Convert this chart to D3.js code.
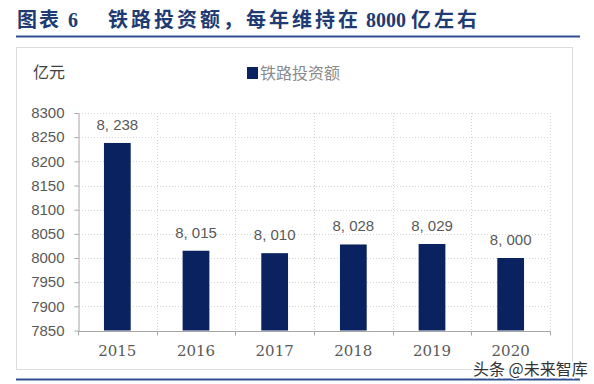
<!DOCTYPE html>
<html>
<head>
<meta charset="utf-8">
<script src="https://cdn.jsdelivr.net/npm/d3@7"></script>
<style>
  body { margin: 0; background: #fff; }
  svg { display: block; }
</style>
</head>
<body>
<div id="chart"></div>
<script>
// data
const years = ["2015", "2016", "2017", "2018", "2019", "2020"];
const invest = [8238, 8015, 8010, 8028, 8029, 8000];
const yTicks = [7850, 7900, 7950, 8000, 8050, 8100, 8150, 8200, 8250, 8300];

const W = 594, H = 384;
const svg = d3.select("#chart").append("svg")
    .attr("width", W)
    .attr("height", H);

const cjk = "'Liberation Serif', 'Noto Sans CJK SC', sans-serif";
const navy = "#0a2260";

// title + rules
const title = svg.append("text")
    .attr("y", 27)
    .attr("font-family", cjk)
    .attr("font-weight", "bold")
    .attr("font-size", 20)
    .attr("fill", "#1f3b73")
    .attr("xml:space", "preserve");
title.append("tspan").attr("x", 17).style("letter-spacing", "2px").text("图表 6");
title.append("tspan").attr("x", 108).style("letter-spacing", "3px").text("铁路投资额，每年维持在");
title.append("tspan").style("letter-spacing", "0px").text(" 8000 ");
title.append("tspan").style("letter-spacing", "3px").text("亿左右");

svg.append("line")
    .attr("x1", 16).attr("x2", 580).attr("y1", 36.5).attr("y2", 36.5)
    .attr("stroke", "#2f4f8f").attr("stroke-width", 2);

svg.append("rect")
    .attr("x", 16.5).attr("y", 47.5).attr("width", 556).attr("height", 322)
    .attr("fill", "none").attr("stroke", "#dcdcdc");

svg.append("line")
    .attr("x1", 16).attr("x2", 580).attr("y1", 379.5).attr("y2", 379.5)
    .attr("stroke", "#2f4f8f").attr("stroke-width", 2);

// unit
svg.append("text")
    .attr("x", 33).attr("y", 78)
    .attr("font-family", "'Noto Sans CJK SC', sans-serif")
    .attr("font-size", 16)
    .attr("fill", "#404040")
    .text("亿元");

// legend
svg.append("rect")
    .attr("x", 247).attr("y", 67).attr("width", 11).attr("height", 12)
    .attr("fill", navy);
svg.append("text")
    .attr("x", 260).attr("y", 79)
    .attr("font-family", "'Noto Sans CJK SC', sans-serif")
    .attr("font-size", 16)
    .attr("fill", "#8a8a8a")
    .text("铁路投资额");

// scales
const x = d3.scaleBand()
    .domain(years)
    .range([78, 550]);

const y = d3.scaleLinear()
    .domain([7850, 8300])
    .range([330.5, 113]);

// gridlines, dotted
const grid = svg.append("g")
    .attr("stroke", "#d4d4d4")
    .attr("stroke-dasharray", "1,2");

grid.selectAll(".hg")
    .data(yTicks.slice(1))
    .enter().append("line")
    .attr("x1", 79).attr("x2", 550)
    .attr("y1", d => Math.round(y(d)) + 0.5)
    .attr("y2", d => Math.round(y(d)) + 0.5);

grid.selectAll(".vg")
    .data(years)
    .enter().append("line")
    .attr("x1", d => Math.round(x(d) + x.bandwidth()) + 0.5)
    .attr("x2", d => Math.round(x(d) + x.bandwidth()) + 0.5)
    .attr("y1", y(8300))
    .attr("y2", y(7850));

// bars
const barW = x.bandwidth() * 0.34;
svg.append("g")
    .selectAll("rect")
    .data(invest)
    .enter().append("rect")
    .attr("x", (d, i) => x(years[i]) + (x.bandwidth() - barW) / 2)
    .attr("y", d => y(d))
    .attr("width", barW)
    .attr("height", d => y(7850) - y(d))
    .attr("fill", navy);

// value labels
svg.append("g")
    .selectAll("text")
    .data(invest)
    .enter().append("text")
    .attr("x", (d, i) => x(years[i]) + x.bandwidth() / 2)
    .attr("y", d => y(d) - 13)
    .attr("text-anchor", "middle")
    .attr("font-family", "'Liberation Sans', Arial, sans-serif")
    .attr("font-size", 15)
    .attr("fill", "#595959")
    .attr("xml:space", "preserve")
    .text(d => d3.format(",")(d).replace(",", ", "));

// y axis
const yAxis = svg.append("g")
    .attr("transform", "translate(78.5,0)")
    .call(d3.axisLeft(y).tickValues(yTicks).tickSize(4).tickPadding(10).tickSizeOuter(0).tickFormat(d3.format("d")));

yAxis.select(".domain").attr("stroke", "#a6a6a6");
yAxis.selectAll(".tick line").attr("stroke", "#a6a6a6");
yAxis.selectAll(".tick text")
    .attr("font-family", "'Liberation Sans', Arial, sans-serif")
    .attr("font-size", 15)
    .attr("fill", "#595959");

// x axis, ticks between categories
const xAxis = svg.append("g")
    .attr("transform", "translate(0," + (Math.round(y(7850)) + 0.5) + ")");

xAxis.append("line")
    .attr("x1", 78).attr("x2", 551)
    .attr("stroke", "#a6a6a6");

xAxis.selectAll(".xt")
    .data([years[0]].concat(years))
    .enter().append("line")
    .attr("x1", (d, i) => Math.round(i === 0 ? x(d) : x(d) + x.bandwidth()) + 0.5)
    .attr("x2", (d, i) => Math.round(i === 0 ? x(d) : x(d) + x.bandwidth()) + 0.5)
    .attr("y1", 0).attr("y2", 4)
    .attr("stroke", "#a6a6a6");

xAxis.selectAll(".xl")
    .data(years)
    .enter().append("text")
    .attr("x", d => x(d) + x.bandwidth() / 2)
    .attr("y", 24)
    .attr("text-anchor", "middle")
    .attr("font-family", "'DejaVu Serif', 'Liberation Serif', serif")
    .attr("font-size", 15)
    .attr("fill", "#595959")
    .text(d => d);

// watermark
svg.append("text")
    .attr("x", 473).attr("y", 374.5)
    .attr("font-family", "'Noto Sans CJK SC', sans-serif")
    .attr("font-size", 16)
    .attr("fill", "#333")
    .attr("stroke", "#fff")
    .attr("stroke-width", 3)
    .attr("paint-order", "stroke")
    .text("头条 @未来智库");
</script>
</body>
</html>
